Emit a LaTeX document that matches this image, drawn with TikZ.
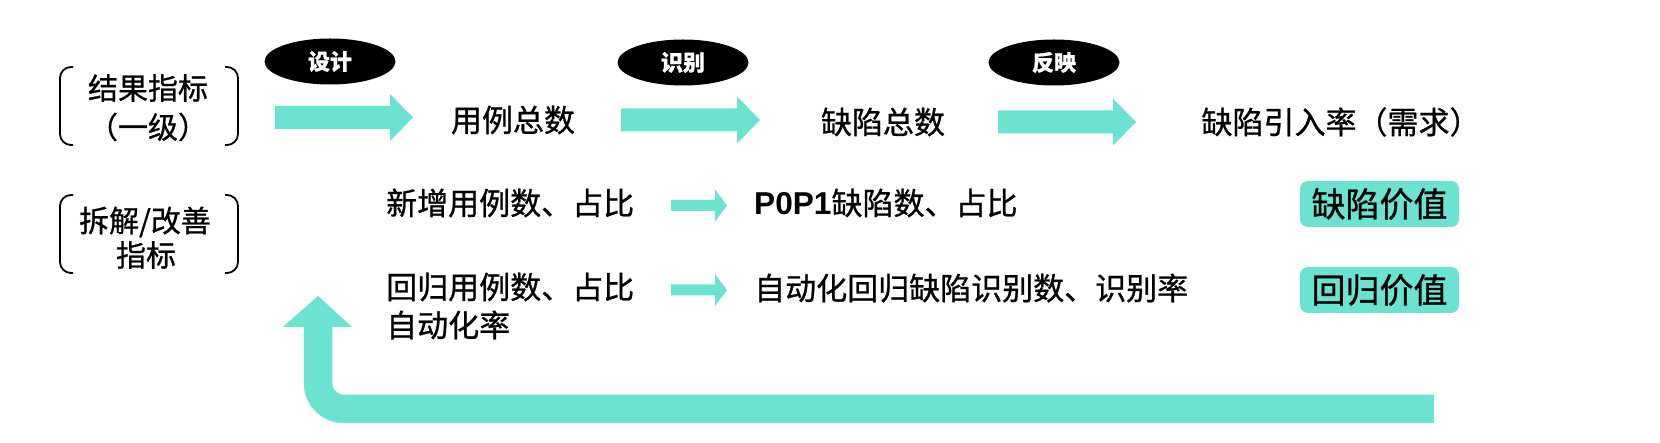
\documentclass[tikz,border=0pt]{standalone}
\usepackage{fontspec}
\setmainfont{Noto Sans CJK SC}[FakeBold=0.8]
\newfontfamily\arialbf{Liberation Sans}[Scale=1.02]
\usetikzlibrary{shapes.geometric}
\definecolor{mint}{RGB}{108,226,208}

\tikzset{
  tag/.style={ellipse,fill=black,text=white,minimum width=131pt,minimum height=46pt,
    inner sep=0pt,font=\fontsize{22}{22}\selectfont\bfseries},
  lbl/.style={inner sep=0pt,font=\fontsize{31}{31}\selectfont},
  head/.style={inner sep=0pt,font=\fontsize{30}{30}\selectfont},
  val/.style={fill=mint,rounded corners=8pt,minimum width=159pt,minimum height=46pt,
    inner sep=0pt,font=\fontsize{34}{34}\selectfont},
  brk/.style={line width=1.8pt,rounded corners=11pt}
}

\begin{document}
\begin{tikzpicture}[x=1pt,y=-1pt]
  \fill[white] (0,0) rectangle (1660,443);
  % brackets on the left
  \draw[brk] (73,67) -- (60,67) -- (60,145) -- (73,145)
             (225,67) -- (238,67) -- (238,145) -- (225,145);
  \draw[brk] (73,195) -- (60,195) -- (60,273) -- (73,273)
             (225,195) -- (238,195) -- (238,273) -- (225,273);
  \node[head] (res1) at (148,88) {结果指标};
  \node[head] (res2) at (148,127) {（一级）};
  \node[head] (dec1) at (145,222) {拆解/改善};
  \node[head] (dec2) at (146,255) {指标};
  % first level
  \foreach \xa/\xb/\yc in {275/390/117.5, 621/737/120, 998/1113/122}
    \fill[mint] (\xa,\yc-11.5) -- (\xb,\yc-11.5) -- (\xb,\yc-23.5) -- (\xb+23,\yc)
      -- (\xb,\yc+23.5) -- (\xb,\yc+11.5) -- (\xa,\yc+11.5) -- cycle;
  \node[tag] (design) at (330,61.5) {设计};
  \node[tag] (identify) at (683,62.5) {识别};
  \node[tag] (reflect) at (1054,62.5) {反映};
  \node[lbl] (cases) at (513,120) {用例总数};
  \node[lbl] (defects) at (883,122) {缺陷总数};
  \node[lbl] (rate) at (1341,122) {缺陷引入率（需求）};
  % breakdown
  \foreach \yc in {205.5, 290}
    \fill[mint] (671,\yc-5.5) -- (715,\yc-5.5) -- (715,\yc-16) -- (727,\yc)
      -- (715,\yc+16) -- (715,\yc+5.5) -- (671,\yc+5.5) -- cycle;
  \node[lbl,anchor=west] (newcases) at (386,203) {新增用例数、占比};
  \node[lbl,anchor=west] (p0p1) at (754,203) {{\arialbf\bfseries P0P1}缺陷数、占比};
  \node[lbl,anchor=west] (regcases) at (386,287) {回归用例数、占比};
  \node[lbl,anchor=west] (autorate) at (386,325) {自动化率};
  \node[lbl,anchor=west] (autodef) at (754,288) {自动化回归缺陷识别数、识别率};
  \node[val] (defval) at (1379.5,204) {缺陷价值};
  \node[val] (regval) at (1379.5,290) {回归价值};
  % feedback loop
  \draw[mint,line width=28.5pt,rounded corners=26pt] (1434,409) -| (318,326);
  \fill[mint] (283,327) -- (352,327) -- (318,296) -- cycle;
\end{tikzpicture}
\end{document}
